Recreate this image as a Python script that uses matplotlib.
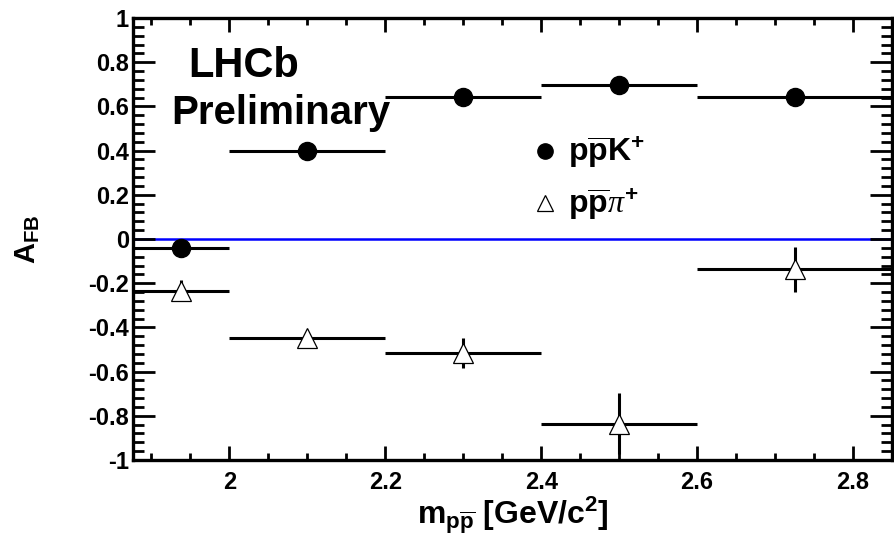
import matplotlib
matplotlib.use("Agg")
import matplotlib.pyplot as plt
from matplotlib.lines import Line2D
from matplotlib.ticker import MultipleLocator, FixedLocator

# Forward-backward asymmetry in bins of the p-pbar invariant mass
mass_centre = [1.938, 2.1, 2.3, 2.5, 2.725]
mass_halfwidth = [0.0615, 0.1, 0.1, 0.1, 0.125]
afb_ppk = [-0.042, 0.400, 0.642, 0.697, 0.642]
err_ppk = [0.02, 0.02, 0.02, 0.02, 0.02]
afb_pppi = [-0.234, -0.448, -0.514, -0.835, -0.136]
err_pppi = [0.047, 0.02, 0.068, 0.139, 0.102]

x_ticks = [2.0, 2.2, 2.4, 2.6, 2.8]
x_tick_labels = ["2", "2.2", "2.4", "2.6", "2.8"]
y_ticks = [-1.0, -0.8, -0.6, -0.4, -0.2, 0.0, 0.2, 0.4, 0.6, 0.8, 1.0]
y_tick_labels = ["-1", "-0.8", "-0.6", "-0.4", "-0.2", "0", "0.2", "0.4", "0.6", "0.8", "1"]

plt.rcParams["font.family"] = ["Liberation Sans", "DejaVu Sans"]
plt.rcParams["font.weight"] = "bold"
plt.rcParams["mathtext.fontset"] = "custom"
plt.rcParams["mathtext.rm"] = "Liberation Sans:bold"
# thin italic serif used for the Greek pi in the legend
plt.rcParams["mathtext.it"] = "Liberation Serif:style=italic:weight=normal"
plt.rcParams["mathtext.bf"] = "Liberation Sans:bold"
plt.rcParams["mathtext.default"] = "rm"

fig = plt.figure(figsize=(8.95, 5.39), dpi=100)
ax = fig.add_axes([0.1486, 0.1466, 0.9966 - 0.1486, 0.9666 - 0.1466])

ax.axhline(0.0, color="#0000ff", lw=1.8, zorder=1)

ax.errorbar(mass_centre, afb_pppi, xerr=mass_halfwidth, yerr=err_pppi,
            fmt="^", ms=14.5, mfc="white", mec="black", mew=0.9,
            ecolor="black", elinewidth=2.2, capsize=0, zorder=3)
ax.errorbar(mass_centre, afb_ppk, xerr=mass_halfwidth, yerr=err_ppk,
            fmt="o", ms=13, mfc="black", mec="black",
            ecolor="black", elinewidth=2.2, capsize=0, zorder=3)

ax.set_xlim(1.8765, 2.85)
ax.set_ylim(-1.0, 1.0)

ax.xaxis.set_major_locator(FixedLocator(x_ticks))
ax.set_xticklabels(x_tick_labels)
ax.xaxis.set_minor_locator(MultipleLocator(0.05))
ax.yaxis.set_major_locator(FixedLocator(y_ticks))
ax.set_yticklabels(y_tick_labels)
ax.yaxis.set_minor_locator(MultipleLocator(0.04))

for s in ax.spines.values():
    s.set_linewidth(2.4)

ax.tick_params(axis="both", which="both", direction="in", top=True, right=True,
               labelsize=17, width=2.0)
ax.tick_params(axis="x", which="major", length=10, pad=8)
ax.tick_params(axis="x", which="minor", length=5)
ax.tick_params(axis="y", which="major", length=16, pad=3)
ax.tick_params(axis="y", which="minor", length=8)
for lab in ax.get_xticklabels() + ax.get_yticklabels():
    lab.set_fontweight("bold")

ax.set_xlabel(r"$\mathrm{m}_{\mathrm{p\overline{p}}}$ [GeV/c$^{2}$]",
              fontsize=23, fontweight="bold")
ax.xaxis.set_label_coords(0.5, -0.078)
ax.set_ylabel(r"$\mathrm{A}_{\mathrm{FB}}$", fontsize=21, fontweight="bold")
ax.yaxis.set_label_coords(-0.12, 0.5)

fig.text(0.2726, 0.857, "LHCb", fontsize=30, fontweight="bold",
         ha="center", va="baseline")
fig.text(0.314, 0.770, "Preliminary", fontsize=29, fontweight="bold",
         ha="center", va="baseline")

handles = [
    Line2D([], [], ls="", marker="o", ms=11, mfc="black", mec="black"),
    Line2D([], [], ls="", marker="^", ms=11.5, mfc="white", mec="black", mew=0.9),
]
labels = [r"$\mathrm{p\overline{p}K^{+}}$", r"$\mathrm{p\overline{p}}\mathit{\pi}^{+}$"]
ax.legend(handles, labels, loc="center left", bbox_to_anchor=(0.5224, 0.636),
          frameon=False, fontsize=23, handlelength=1.0, handletextpad=0.2,
          borderpad=0, borderaxespad=0, labelspacing=0.5)

fig.savefig("out.png", dpi=100)
